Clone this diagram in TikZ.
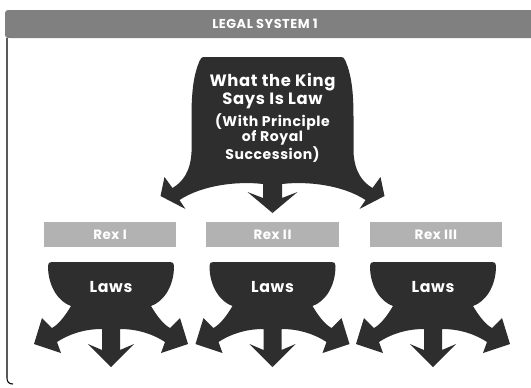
\documentclass[tikz,border=0pt]{standalone}
\usepackage{fontspec}
\setmainfont{Poppins}
\newfontfamily\widesans[LetterSpace=4]{Poppins}
\usetikzlibrary{positioning}

\colorlet{inkdark}{black!82}
\colorlet{barshade}{black!50}
\colorlet{rexshade}{black!30}

\begin{document}
\begin{tikzpicture}[
			x=0.03cm, y=-0.03cm,
			rexbox/.style={fill=rexshade, minimum width=3.96cm, minimum height=0.75cm, inner sep=0pt, text=white, font=\widesans\bfseries\fontsize{11.5}{13}\selectfont},
			lawtext/.style={text=white, inner sep=0pt, font=\widesans\bfseries\fontsize{13.5}{15}\selectfont},
			kingtext/.style={text=white, align=center, inner sep=0pt},
			lawsfount/.pic={
				\foreach \s in {1,-1}
				\fill[inkdark, xscale=\s] (-1,0) -- (59,0) .. controls (62,0) and (63,1) .. (63,4)
				.. controls (63,25) and (52,40) .. (40,44) .. controls (46,54) and (52,62) .. (59,66)
				-- (69,56) -- (77,82) -- (50,91) -- (54,80) .. controls (40,71) and (25,67) .. (9,67)
				-- (9,88) -- (23,82) -- (0,105) -- (-1,95) -- cycle;
			},
			kingfount/.pic={
				\foreach \s in {1,-1}
				\fill[inkdark, xscale=\s] (-1,0) -- (67,0) .. controls (71,0) and (72,1) .. (73,4)
				.. controls (79,18) and (81,35) .. (81,60) -- (81,95) .. controls (82,115) and (90,125) .. (100,131)
				-- (108,120) -- (112,139) -- (87,152) -- (93,143) .. controls (70,128) and (35,124) .. (9.5,127)
				-- (9.5,141) -- (25,135) -- (0,156) -- (-1,145) -- cycle;
			},
			]
			\useasboundingbox (0,0) rectangle (531,387);
			
			% Kopfleiste und Rahmen
			\fill[barshade] (531,10) -- (10,10) .. controls (6,10) and (5,11) .. (5,15) -- (5,33)
			.. controls (5,37) and (6,38) .. (10,38) -- (531,38) -- cycle;
			\node[text=white, font=\widesans\bfseries\fontsize{11}{12}\selectfont] (title) at (265,24) {LEGAL SYSTEM 1};
			\draw[line width=0.9pt] (7,38) -- (7,378) .. controls (7,382) and (9,384) .. (13,384);
			
			% König oben
			\pic at (272.5,57) {kingfount};
			\node[kingtext, font=\widesans\bfseries\fontsize{14}{15.4}\selectfont] (king) at (272.5,91) {What the King\\Says Is Law};
			\node[kingtext, font=\widesans\bfseries\fontsize{12}{13.2}\selectfont] (principle) at (272.5,138) {(With Principle\\of Royal\\Succession)};
			
			% Könige und ihre Gesetze
			\node[rexbox] (rex2) at (272.5,234.5) {Rex II};
			\node[rexbox, left=0.9cm of rex2] (rex1) {Rex I};
			\node[rexbox, right=0.93cm of rex2] (rex3) {Rex III};
			\foreach \cx [count=\i] in {111,272.5,433} {
				\pic at (\cx,262) {lawsfount};
				\node[lawtext] (laws\i) at (\cx,287) {Laws};
			}
			
		\end{tikzpicture}
\end{document}
